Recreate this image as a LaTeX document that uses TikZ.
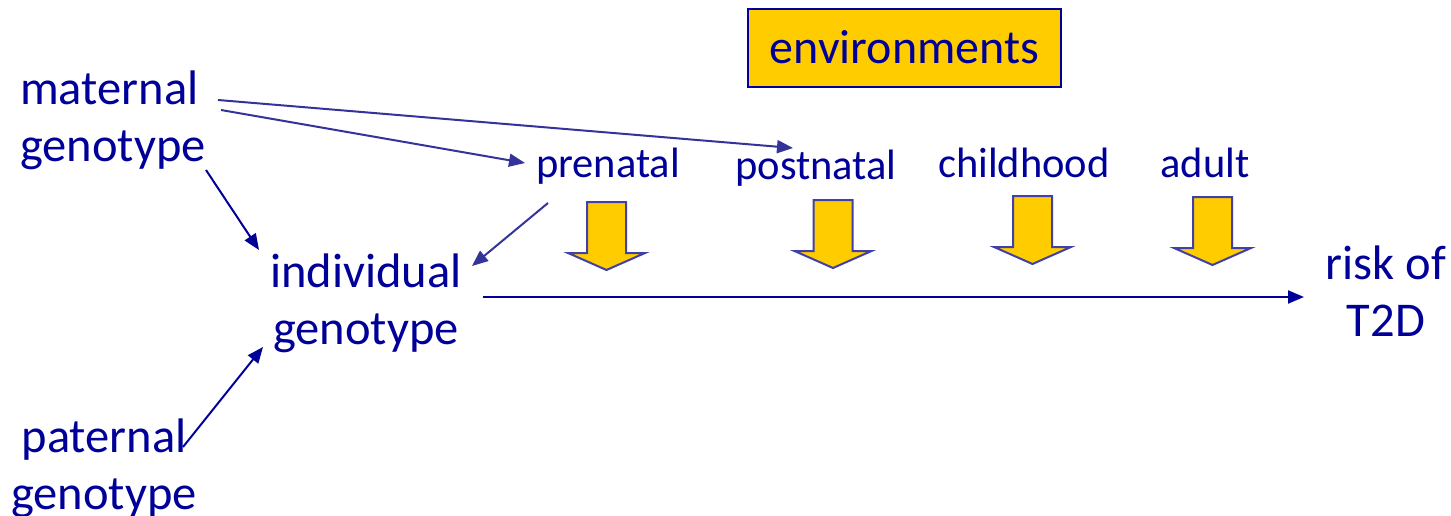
\documentclass[tikz,border=0pt]{standalone}
\usepackage{fontspec}
\setmainfont{Carlito}
\usetikzlibrary{arrows.meta}
\definecolor{txt}{RGB}{0,0,153}
\definecolor{arrA}{RGB}{51,51,153}
\definecolor{gold}{RGB}{255,204,0}
\definecolor{blockedge}{RGB}{64,64,168}
\begin{document}
\begin{tikzpicture}[x=1pt,y=-1pt,
  lbl/.style={text=txt, inner sep=0pt, font=\fontsize{48.5}{57}\selectfont},
  stage/.style={text=txt, inner sep=0pt, font=\fontsize{42.5}{50}\selectfont, anchor=base},
  link/.style={draw=txt, line width=2pt, -{Triangle[length=16pt,width=13pt]}},
  linkb/.style={link, draw=arrA},
  blockarr/.style={fill=gold, draw=blockedge, line width=2pt, line join=miter},
  envbox/.style={fill=gold, draw=txt, line width=2pt, minimum width=313pt, minimum height=78pt,
    text height=32pt, text depth=0pt, inner sep=0pt, text=txt, font=\fontsize{48}{57}\selectfont}]
\useasboundingbox (0,0) rectangle (1451,516);

\node[envbox] (env) at (904.5,48) {environments};

% multi-line nodes: base anchor = baseline of the last line
\node[lbl, align=left, anchor=base west] (mat) at (20,161) {maternal\\genotype};
\node[lbl, align=center, anchor=base] (ind) at (366,344) {individual\\genotype};
\node[lbl, align=center, anchor=base] (pat) at (104,509) {paternal\\genotype};
\node[lbl, align=center, anchor=base] (risk) at (1386,336) {risk of\\T2D};

\node[stage] (pre) at (608,177) {prenatal};
\node[stage] (post) at (816,179) {postnatal};
\node[stage] (child) at (1024,177) {childhood};
\node[stage] (adult) at (1205,178) {adult};

\foreach \cx/\ty in {606.5/202, 833/200, 1032.5/196, 1212.5/197} {
  \draw[blockarr] (\cx-19.5,\ty) -- (\cx+19.5,\ty) -- (\cx+19.5,\ty+51) -- (\cx+38.5,\ty+51)
    -- (\cx,\ty+68) -- (\cx-38.5,\ty+51) -- (\cx-19.5,\ty+51) -- cycle;
}

\draw[linkb] ([xshift=198pt,yshift=61pt]mat.base west) -- ([xshift=-23pt,yshift=31pt]post.base);
\draw[linkb] ([xshift=201pt,yshift=51pt]mat.base west) -- ([xshift=-83pt,yshift=14pt]pre.base);
\draw[link] ([xshift=186pt,yshift=-9pt]mat.base west) -- ([xshift=-107pt,yshift=94pt]ind.base);
\draw[linkb] ([xshift=-60pt,yshift=-26pt]pre.base) -- ([xshift=106pt,yshift=78pt]ind.base);
\draw[link] ([xshift=79pt,yshift=62pt]pat.base) -- ([xshift=-103pt,yshift=-3pt]ind.base);
\draw[link] ([xshift=117pt,yshift=47pt]ind.base) -- ([xshift=-82pt,yshift=39pt]risk.base);
\end{tikzpicture}
\end{document}
